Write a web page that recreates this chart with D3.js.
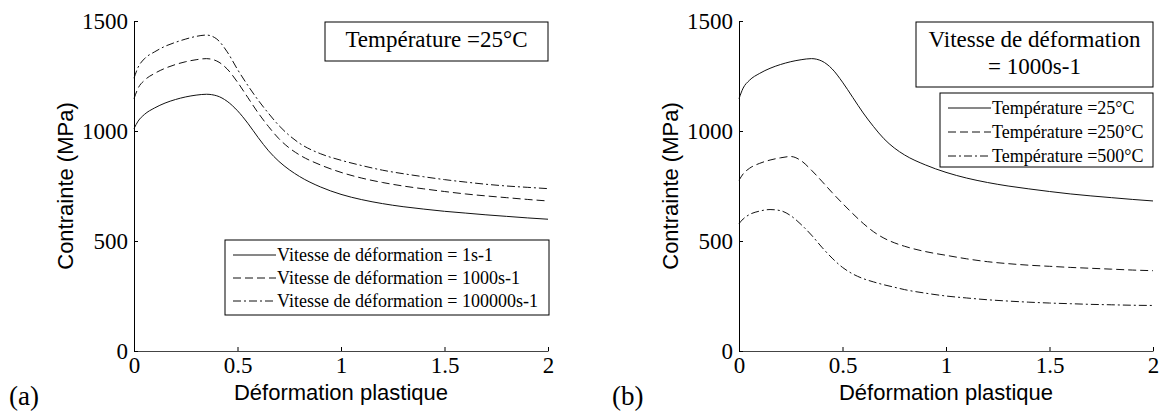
<!DOCTYPE html>
<html>
<head>
<meta charset="utf-8">
<script src="https://cdn.jsdelivr.net/npm/d3@7"></script>
<style>
  body { margin: 0; background: #fff; }
  svg { display: block; }
</style>
</head>
<body>
<div id="chart"></div>
<script>
// Plastic strain samples (x) shared by every curve
const strain = [0, 0.02, 0.05, 0.1, 0.15, 0.2, 0.25, 0.3, 0.35, 0.4, 0.45, 0.5, 0.55, 0.6, 0.65, 0.7, 0.75, 0.8, 0.9, 1.0, 1.1, 1.2, 1.3, 1.4, 1.5, 1.6, 1.7, 1.8, 1.9, 2.0];

// (a) T = 25°C, different strain rates
const rate1 = [1011, 1045, 1075, 1105, 1127, 1143, 1155, 1163, 1167, 1160, 1135, 1092, 1035, 970, 910, 862, 824, 793, 746, 712, 688, 670, 656, 645, 635, 627, 619, 612, 605, 599];
const rate1000 = [1147, 1195, 1230, 1262, 1285, 1302, 1315, 1324, 1329, 1318, 1282, 1222, 1152, 1082, 1020, 965, 923, 891, 846, 812, 786, 766, 750, 737, 725, 714, 705, 697, 689, 682];
const rate100000 = [1240, 1290, 1328, 1360, 1385, 1403, 1418, 1430, 1436, 1418, 1360, 1280, 1207, 1140, 1080, 1025, 980, 944, 897, 867, 843, 822, 806, 792, 779, 768, 758, 750, 744, 738];

// (b) rate = 1000s-1, different temperatures
const temp25 = rate1000;
const temp250 = [776, 805, 830, 853, 868, 878, 884, 865, 822, 772, 720, 671, 624, 580, 542, 513, 492, 476, 452, 435, 419, 406, 397, 390, 385, 380, 376, 372, 368, 365];
const temp500 = [579, 600, 620, 636, 643, 638, 615, 575, 527, 472, 422, 380, 350, 329, 314, 301, 290, 279, 263, 250, 241, 233, 227, 222, 218, 215, 212, 210, 208, 207];

const xTicks = [0, 0.5, 1, 1.5, 2];
const yTicks = [0, 500, 1000, 1500];

const legendA = ["Vitesse de déformation = 1s-1", "Vitesse de déformation = 1000s-1", "Vitesse de déformation = 100000s-1"];
const legendB = ["Température =25°C", "Température =250°C", "Température =500°C"];
const dashes = [null, "8,4", "8,3,2,3"];

const W = 1161, H = 411;
const svg = d3.select("#chart").append("svg")
    .attr("width", W)
    .attr("height", H);

const serif = "'Liberation Serif', 'Times New Roman', serif";
const sans = "'Liberation Sans', Arial, sans-serif";

function drawPanel(opts) {
    const x = d3.scaleLinear().domain([0, 2]).range([opts.left, opts.left + 414]);
    const y = d3.scaleLinear().domain([0, 1500]).range([351, 21]);

    const line = d3.line()
        .x((d, i) => x(strain[i]))
        .y(d => y(d))
        .curve(d3.curveMonotoneX);

    opts.series.forEach((s, i) => {
        svg.append("path")
            .datum(s)
            .attr("d", line)
            .attr("fill", "none")
            .attr("stroke", "#111")
            .attr("stroke-width", 1)
            .attr("stroke-dasharray", dashes[i]);
    });

    // x axis
    const gx = svg.append("g")
        .attr("transform", `translate(0,${y(0)})`)
        .call(d3.axisBottom(x).tickValues(xTicks).tickSizeInner(-4).tickSizeOuter(0).tickPadding(6).tickFormat(d => d));
    gx.select(".domain").attr("stroke", "#444");
    gx.selectAll("text").style("font-family", serif).style("font-size", "23px").attr("fill", "#000");

    // y axis
    const gy = svg.append("g")
        .attr("transform", `translate(${opts.left},0)`)
        .call(d3.axisLeft(y).tickValues(yTicks).tickSizeInner(-4).tickSizeOuter(0).tickPadding(6).tickFormat(d => d));
    gy.select(".domain").attr("stroke", "#000");
    gy.selectAll("text").style("font-family", serif).style("font-size", "23px").attr("fill", "#000");

    // axis titles
    svg.append("text")
        .attr("x", opts.left + 207)
        .attr("y", 400)
        .attr("text-anchor", "middle")
        .style("font-family", sans)
        .style("font-size", "22px")
        .text("Déformation plastique");

    svg.append("text")
        .attr("transform", `translate(${opts.left - 61},186) rotate(-90)`)
        .attr("text-anchor", "middle")
        .style("font-family", sans)
        .style("font-size", "22px")
        .text("Contrainte (MPa)");

    // panel letter
    svg.append("text")
        .attr("x", opts.letterX)
        .attr("y", 405)
        .style("font-family", serif)
        .style("font-size", "27px")
        .text(opts.letter);

    // title box
    const tb = opts.titleBox;
    svg.append("rect")
        .attr("x", tb.x).attr("y", tb.y).attr("width", tb.w).attr("height", tb.h)
        .attr("fill", "#fff").attr("stroke", "#000");
    tb.lines.forEach((t, i) => {
        svg.append("text")
            .attr("x", tb.x + tb.w / 2)
            .attr("y", tb.y + 25 + i * 27)
            .attr("text-anchor", "middle")
            .style("font-family", serif)
            .style("font-size", "23px")
            .text(t);
    });

    // legend box
    const lb = opts.legendBox;
    svg.append("rect")
        .attr("x", lb.x).attr("y", lb.y).attr("width", lb.w).attr("height", lb.h)
        .attr("fill", "#fff").attr("stroke", "#000");
    opts.labels.forEach((t, i) => {
        const cy = lb.y + 15 + i * lb.step;
        svg.append("line")
            .attr("x1", lb.x + 8).attr("x2", lb.x + 51)
            .attr("y1", cy).attr("y2", cy)
            .attr("stroke", "#111")
            .attr("stroke-dasharray", dashes[i]);
        svg.append("text")
            .attr("x", lb.x + 52)
            .attr("y", cy + 6)
            .style("font-family", serif)
            .style("font-size", "18px")
            .text(t);
    });
}

drawPanel({
    left: 134,
    series: [rate1, rate1000, rate100000],
    labels: legendA,
    letter: "(a)", letterX: 9,
    titleBox: { x: 325, y: 22, w: 223, h: 39, lines: ["Température =25°C"] },
    legendBox: { x: 225, y: 240, w: 324, h: 75, step: 23 }
});

drawPanel({
    left: 739,
    series: [temp25, temp250, temp500],
    labels: legendB,
    letter: "(b)", letterX: 612,
    titleBox: { x: 916, y: 22, w: 237, h: 65, lines: ["Vitesse de déformation", "= 1000s-1"] },
    legendBox: { x: 940, y: 93, w: 213, h: 74, step: 24 }
});
</script>
</body>
</html>
